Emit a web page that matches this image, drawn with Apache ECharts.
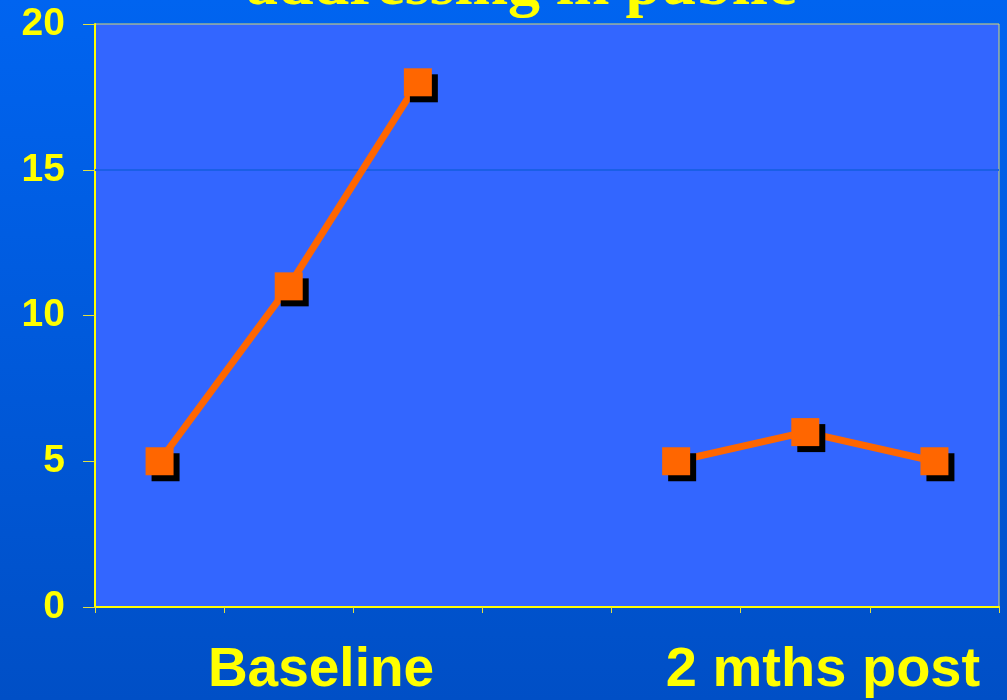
<!DOCTYPE html>
<html>
<head>
<meta charset="utf-8">
<script src="https://cdn.jsdelivr.net/npm/echarts@6/dist/echarts.min.js"></script>
<style>
html,body{margin:0;padding:0;background:#0058d8;}
#chart{width:1007px;height:700px;}
</style>
</head>
<body>
<div id="chart"></div>
<script>
const titleText = 'addressing in public';
const categories = ['b1', 'b2', 'b3', 'gap', 'p1', 'p2', 'p3'];
const values = [5, 11, 18, null, 5, 6, 5];
const groupLabels = ['Baseline', '2 mths post'];
const yMin = 0, yMax = 20, yInterval = 5;
const gridLineValue = 15;

const chart = echarts.init(document.getElementById('chart'), null, {renderer: 'canvas'});
const yellow = '#ffff00';
chart.setOption({
  animation: false,
  backgroundColor: {
    type: 'linear', x: 0, y: 0, x2: 0, y2: 1,
    colorStops: [{offset: 0, color: '#0064f0'}, {offset: 1, color: '#004fc6'}]
  },
  graphic: [{
    type: 'text', left: 246, top: -45, z: 10,
    style: {
      text: titleText, fill: yellow,
      font: 'bold 64px "Liberation Serif"'
    }
  }],
  grid: {
    left: 95, right: 8, top: 24, bottom: 93,
    show: true, backgroundColor: '#3366ff',
    borderColor: '#d8d870', borderWidth: 1
  },
  xAxis: [{
    type: 'category', data: categories, boundaryGap: true,
    axisLine: {lineStyle: {color: yellow, width: 2}},
    axisTick: {show: true, interval: 0, length: 6, lineStyle: {color: '#e0e040', width: 1}},
    axisLabel: {show: false},
    splitLine: {show: false}
  }, {
    type: 'category', data: groupLabels, position: 'bottom',
    axisLine: {show: false}, axisTick: {show: false}, splitLine: {show: false},
    axisLabel: {
      margin: 36,
      formatter: (v, i) => i === 1 ? '{b|' + v + '}' : '{a|' + v + '}',
      rich: {
        a: {color: yellow, fontSize: 55, fontWeight: 'bold', fontFamily: '"Liberation Sans", Arial'},
        b: {color: yellow, fontSize: 56, fontWeight: 'bold', fontFamily: '"Liberation Sans", Arial', padding: [0, 0, 0, 100]}
      }
    }
  }],
  yAxis: {
    type: 'value', min: yMin, max: yMax, interval: yInterval,
    axisLine: {show: true, lineStyle: {color: yellow, width: 2}},
    axisTick: {show: true, length: 12, lineStyle: {color: '#e0e040', width: 1}},
    axisLabel: {margin: 30, color: yellow, fontSize: 39, fontWeight: 'bold', fontFamily: '"Liberation Sans", Arial'},
    splitLine: {show: false}
  },
  series: [{
    type: 'line', data: values, xAxisIndex: 0,
    connectNulls: false,
    lineStyle: {color: '#ff6600', width: 7},
    symbol: 'rect', symbolSize: 28,
    itemStyle: {color: '#ff6600', shadowColor: '#000000', shadowOffsetX: 6, shadowOffsetY: 6, shadowBlur: 0},
    markLine: {
      silent: true, symbol: 'none', label: {show: false},
      lineStyle: {color: '#1a5fe6', width: 2, type: 'solid'},
      data: [{yAxis: gridLineValue}]
    },
    z: 5
  }]
});
</script>
</body>
</html>
